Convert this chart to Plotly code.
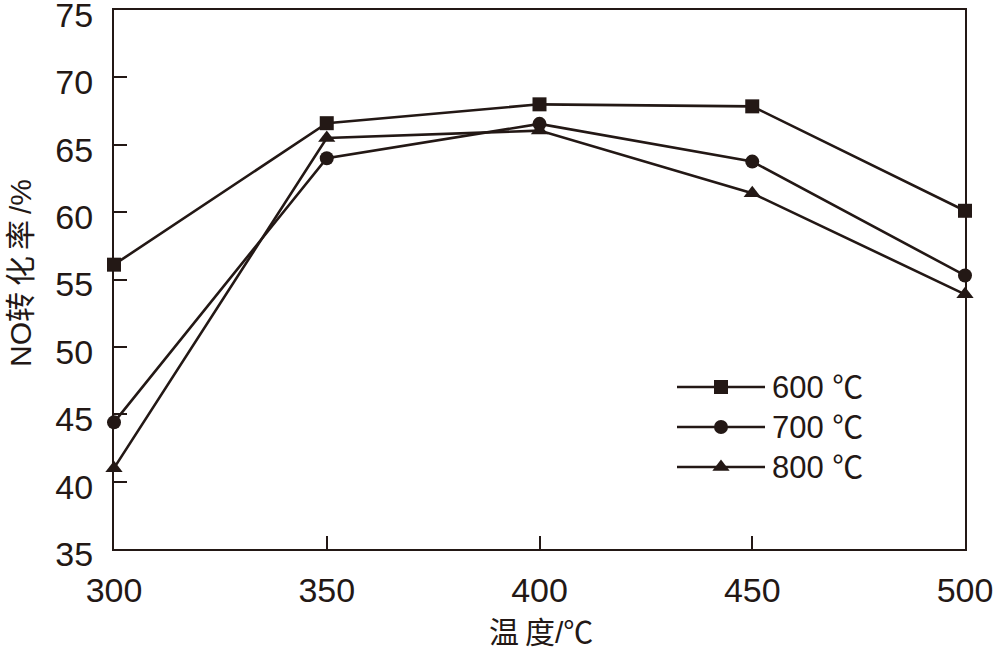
import plotly.graph_objects as go

temps = [300, 350, 400, 450, 500]
s600 = [56.1, 66.6, 68.0, 67.85, 60.1]
s700 = [44.4, 64.0, 66.55, 63.75, 55.3]
s800 = [41.0, 65.5, 66.05, 61.4, 53.9]
series_names = ["600 ℃", "700 ℃", "800 ℃"]
x_ticks = [300, 350, 400, 450, 500]
y_ticks = [35, 40, 45, 50, 55, 60, 65, 70, 75]
x_title = "温\u2009度/℃"
y_title = "NO转\u2009化\u2009率\u2009/%"

INK = "#231815"
FONT = "Liberation Sans, Arial, Noto Sans CJK SC, sans-serif"
symbols = ["square", "circle", "triangle-up"]
sizes = [14, 14, 15]

FW, FH = 1000, 653
W0, W1 = 114, 965
H0, H1 = 10, 549
def px(x):
    return (x - W0) / (W1 - W0)
def py(y):
    return (H1 - y) / (H1 - H0)

fig = go.Figure()
for vals, sym, sz, name in zip([s600, s700, s800], symbols, sizes, series_names):
    fig.add_trace(go.Scatter(
        x=temps, y=vals, mode="lines+markers", name=name,
        line=dict(color=INK, width=2.6),
        marker=dict(symbol=sym, size=sz, color=INK),
        cliponaxis=False, showlegend=False,
    ))

# manual legend (paper coords through an overlay axis)
rows = [387, 427, 467]
for name, sym, sz, ry in zip(series_names, symbols, sizes, rows):
    fig.add_trace(go.Scatter(
        x=[px(677), px(721), px(765)], y=[py(ry)] * 3,
        xaxis="x2", yaxis="y2", mode="lines",
        line=dict(color=INK, width=2.6), showlegend=False, hoverinfo="skip",
    ))
    fig.add_trace(go.Scatter(
        x=[px(721)], y=[py(ry)], xaxis="x2", yaxis="y2", mode="markers",
        marker=dict(symbol=sym, size=sz, color=INK), showlegend=False,
        hoverinfo="skip", cliponaxis=False,
    ))
    fig.add_annotation(
        x=px(770), y=py(ry), xref="paper", yref="paper", text=name,
        showarrow=False, xanchor="left", yanchor="middle",
        font=dict(family=FONT, size=31, color=INK),
    )

# axis titles
fig.add_annotation(
    x=px(541), y=py(632), xref="paper", yref="paper", text=x_title,
    showarrow=False, xanchor="center", yanchor="middle",
    font=dict(family=FONT, size=30, color=INK),
)
fig.add_annotation(
    x=px(20), y=py(273), xref="paper", yref="paper", text=y_title, textangle=-90,
    showarrow=False, xanchor="center", yanchor="middle",
    font=dict(family=FONT, size=30, color=INK),
)

fig.update_layout(
    width=FW, height=FH,
    margin=dict(l=W0, r=FW - W1, t=H0, b=FH - H1, autoexpand=False),
    paper_bgcolor="white", plot_bgcolor="white",
    font=dict(family=FONT, color=INK),
    showlegend=False,
    xaxis=dict(
        range=[300, 500], tickvals=x_ticks, ticks="inside", ticklen=13,
        tickwidth=2, tickcolor=INK, showline=True, linecolor=INK, linewidth=2,
        mirror=True, showgrid=False, zeroline=False, automargin=False,
        tickfont=dict(size=34, family=FONT, color=INK),
        ticklabelstandoff=10, ticklabeloverflow="allow",
    ),
    yaxis=dict(
        range=[35, 75], tickvals=y_ticks, ticks="inside", ticklen=13,
        tickwidth=2, tickcolor=INK, showline=True, linecolor=INK, linewidth=2,
        mirror=True, showgrid=False, zeroline=False, automargin=False,
        tickfont=dict(size=34, family=FONT, color=INK),
        ticklabelstandoff=12, ticklabeloverflow="allow", ticklabelshift=5,
    ),
    xaxis2=dict(overlaying="x", range=[0, 1], visible=False),
    yaxis2=dict(overlaying="y", range=[0, 1], visible=False),
)

fig.write_html("out.html", config={"displayModeBar": False},
               post_script="document.body.style.margin='0px';")
